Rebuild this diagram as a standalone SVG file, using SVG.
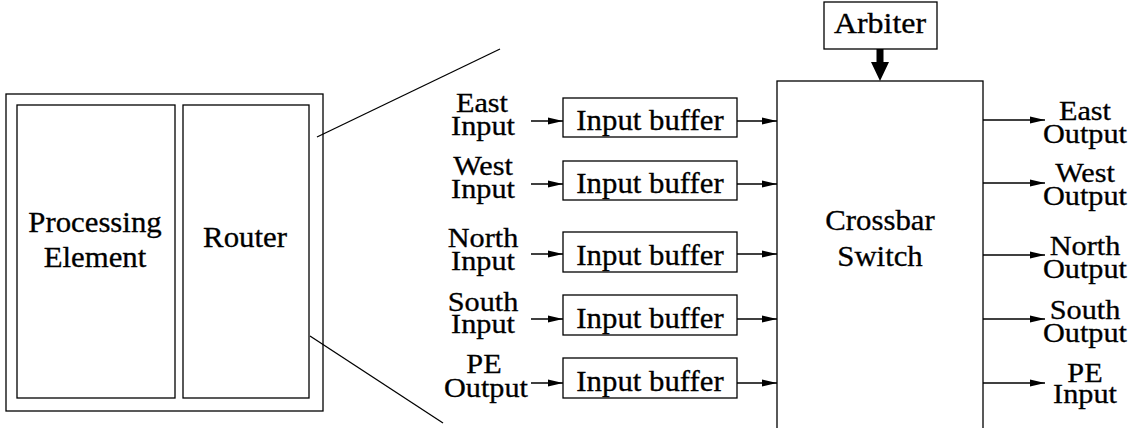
<svg xmlns="http://www.w3.org/2000/svg" width="1135" height="428" viewBox="0 0 1135 428">
  <style>
    .box { fill: #fff; stroke: #000; stroke-width: 1.3; }
    .ln { fill: none; stroke: #000; stroke-width: 1.3; }
    .arr { fill: none; stroke: #000; stroke-width: 1.5; marker-end: url(#head); }
    .t { font-size: 28.5px; fill: #000; stroke: #000; stroke-width: 0.3; text-anchor: middle; }
    .p { font-size: 28px; fill: #000; stroke: #000; stroke-width: 0.3; text-anchor: middle; }
  </style>
  <defs>
    <marker id="head" markerUnits="userSpaceOnUse" markerWidth="16" markerHeight="10" refX="15" refY="4" orient="auto">
      <path d="M0,0.5 L15,4 L0,7.5 Z" fill="#000"/>
    </marker>
  </defs>
  <rect width="1135" height="428" fill="#fff"/>

  <g font-family="Liberation Serif, Times New Roman, Times, serif">
  <!-- tile: processing element + router -->
  <g id="tile">
    <rect class="box" x="6" y="94" width="317" height="317"/>
  </g>
  <g id="pe">
    <rect class="box" x="17" y="105" width="158" height="293"/>
    <text class="t" transform="translate(95,232) scale(1.08,1)">Processing</text>
    <text class="t" transform="translate(95,267) scale(1.08,1)">Element</text>
  </g>
  <g id="router">
    <rect class="box" x="183" y="105" width="126" height="293"/>
    <text class="t" transform="translate(245,247) scale(1.08,1)">Router</text>
  </g>

  <!-- input buffers -->
  <g id="buf-east">
    <rect class="box" x="563" y="98" width="174" height="39"/>
    <text class="t" transform="translate(650,130) scale(1.08,1)">Input buffer</text>
  </g>
  <g id="buf-west">
    <rect class="box" x="563" y="161" width="174" height="39"/>
    <text class="t" transform="translate(650,193) scale(1.08,1)">Input buffer</text>
  </g>
  <g id="buf-north">
    <rect class="box" x="563" y="232" width="174" height="40"/>
    <text class="t" transform="translate(650,265) scale(1.08,1)">Input buffer</text>
  </g>
  <g id="buf-south">
    <rect class="box" x="563" y="295" width="174" height="40"/>
    <text class="t" transform="translate(650,328) scale(1.08,1)">Input buffer</text>
  </g>
  <g id="buf-pe">
    <rect class="box" x="563" y="358" width="174" height="40"/>
    <text class="t" transform="translate(650,391) scale(1.08,1)">Input buffer</text>
  </g>

  <!-- crossbar and arbiter -->
  <g id="crossbar">
    <rect class="box" x="777" y="81" width="206" height="370"/>
    <text class="t" transform="translate(880,230) scale(1.08,1)">Crossbar</text>
    <text class="t" transform="translate(880,266) scale(1.08,1)">Switch</text>
  </g>
  <g id="arbiter">
    <rect class="box" x="824" y="2" width="113" height="47"/>
    <text class="t" transform="translate(880,33) scale(1.12,1)">Arbiter</text>
  </g>

  <!-- port labels, inputs -->
  <g id="in-labels">
    <text class="p" transform="translate(482,112) scale(1.08,1)">East</text>
    <text class="p" transform="translate(483,135) scale(1.08,1)">Input</text>
    <text class="p" transform="translate(483,175) scale(1.08,1)">West</text>
    <text class="p" transform="translate(483,198) scale(1.08,1)">Input</text>
    <text class="p" transform="translate(483,247) scale(1.08,1)">North</text>
    <text class="p" transform="translate(483,270) scale(1.08,1)">Input</text>
    <text class="p" transform="translate(483,311) scale(1.08,1)">South</text>
    <text class="p" transform="translate(483,333) scale(1.08,1)">Input</text>
    <text class="p" transform="translate(484,373) scale(1.08,1)">PE</text>
    <text class="p" transform="translate(486,397) scale(1.08,1)">Output</text>
  </g>

  <!-- port labels, outputs -->
  <g id="out-labels">
    <text class="p" transform="translate(1085,120) scale(1.08,1)">East</text>
    <text class="p" transform="translate(1085,143) scale(1.08,1)">Output</text>
    <text class="p" transform="translate(1085,182) scale(1.08,1)">West</text>
    <text class="p" transform="translate(1085,205) scale(1.08,1)">Output</text>
    <text class="p" transform="translate(1085,255) scale(1.08,1)">North</text>
    <text class="p" transform="translate(1085,278) scale(1.08,1)">Output</text>
    <text class="p" transform="translate(1085,319) scale(1.08,1)">South</text>
    <text class="p" transform="translate(1085,342) scale(1.08,1)">Output</text>
    <text class="p" transform="translate(1085,382) scale(1.08,1)">PE</text>
    <text class="p" transform="translate(1085,403) scale(1.08,1)">Input</text>
  </g>
  </g>

  <!-- connectors -->
  <g id="connectors">
    <!-- zoom lines from the router to the detail view -->
    <line class="ln" x1="317" y1="137" x2="500" y2="49"/>
    <line class="ln" x1="310" y1="336" x2="443" y2="423"/>

    <!-- ports into buffers -->
    <line class="arr" x1="531" y1="121" x2="563" y2="121"/>
    <line class="arr" x1="531" y1="184" x2="563" y2="184"/>
    <line class="arr" x1="531" y1="254" x2="563" y2="254"/>
    <line class="arr" x1="531" y1="319" x2="563" y2="319"/>
    <line class="arr" x1="531" y1="383" x2="563" y2="383"/>

    <!-- buffers into crossbar -->
    <line class="arr" x1="737" y1="121" x2="777" y2="121"/>
    <line class="arr" x1="737" y1="184" x2="777" y2="184"/>
    <line class="arr" x1="737" y1="254" x2="777" y2="254"/>
    <line class="arr" x1="737" y1="319" x2="777" y2="319"/>
    <line class="arr" x1="737" y1="383" x2="777" y2="383"/>

    <!-- crossbar outputs -->
    <line class="arr" x1="983" y1="120" x2="1045" y2="120"/>
    <line class="arr" x1="983" y1="183" x2="1045" y2="183"/>
    <line class="arr" x1="983" y1="255" x2="1045" y2="255"/>
    <line class="arr" x1="983" y1="319" x2="1045" y2="319"/>
    <line class="arr" x1="983" y1="383" x2="1045" y2="383"/>

    <!-- arbiter grant into crossbar -->
    <path d="M876.5,49 L883.5,49 L883.5,62 L889,62 L880,81 L871,62 L876.5,62 Z" fill="#000"/>
  </g>
</svg>
